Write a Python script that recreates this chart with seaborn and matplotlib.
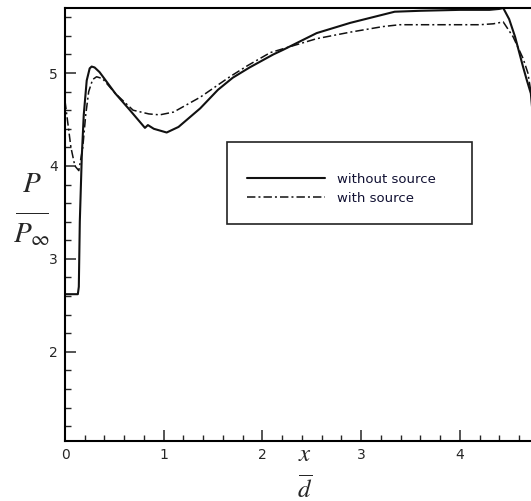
import matplotlib
matplotlib.use("Agg")
import matplotlib.pyplot as plt
from matplotlib.patches import Rectangle
from matplotlib.ticker import MultipleLocator
import numpy as np
import pandas as pd
import seaborn as sns

# ---- data ----
x_without = [0, 0.13, 0.14, 0.15, 0.17, 0.19, 0.22, 0.25, 0.27, 0.30, 0.35, 0.51, 0.65,
             0.81, 0.84, 0.90, 1.03, 1.15, 1.37, 1.55, 1.70, 1.87, 2.11, 2.21, 2.55, 2.89,
             3.34, 3.60, 4.00, 4.30, 4.40, 4.44, 4.50, 4.56, 4.64, 4.68, 4.72, 4.80]
y_without = [2.62, 2.62, 2.70, 3.40, 4.10, 4.55, 4.92, 5.05, 5.07, 5.06, 5.01, 4.78, 4.61,
             4.41, 4.44, 4.40, 4.36, 4.42, 4.62, 4.82, 4.95, 5.06, 5.20, 5.25, 5.43, 5.54,
             5.66, 5.67, 5.68, 5.68, 5.69, 5.70, 5.58, 5.39, 5.07, 4.92, 4.78, 3.80]

x_with = [0, 0.03, 0.06, 0.10, 0.14, 0.18, 0.21, 0.24, 0.28, 0.32, 0.38, 0.51, 0.69, 0.85,
          0.96, 1.10, 1.37, 1.67, 1.85, 2.08, 2.55, 2.89, 3.22, 3.39, 3.80, 4.20, 4.34,
          4.44, 4.54, 4.64, 4.69, 4.75, 4.80]
y_with = [4.70, 4.45, 4.20, 4.00, 3.95, 4.20, 4.55, 4.80, 4.93, 4.96, 4.94, 4.78, 4.60, 4.56,
          4.55, 4.58, 4.74, 4.96, 5.08, 5.22, 5.37, 5.44, 5.50, 5.52, 5.52, 5.52, 5.53,
          5.55, 5.39, 5.16, 5.00, 4.60, 4.20]

labels = ["without source", "with source"]
x_ticks = [0, 1, 2, 3, 4]
y_ticks = [2, 3, 4, 5]

# ---- figure ----
sns.set_style("ticks")
plt.rcParams["font.family"] = ["DejaVu Sans"]
plt.rcParams["mathtext.fontset"] = "stix"

W, H = 531, 501
fig = plt.figure(figsize=(W / 100, H / 100), dpi=100)
ax_left, ax_top, ax_bottom = 65, 8, 441
px_per_x = 98.7
ax = fig.add_axes([ax_left / W, (H - ax_bottom) / H, 5 * px_per_x / W, (ax_bottom - ax_top) / H])

df1 = pd.DataFrame({"x": x_without, "y": y_without})
df2 = pd.DataFrame({"x": x_with, "y": y_with})

sns.lineplot(data=df1, x="x", y="y", ax=ax, color="#111111", lw=1.5,
             sort=False, estimator=None, label=labels[0])
sns.lineplot(data=df2, x="x", y="y", ax=ax, color="#111111", lw=1.1,
             sort=False, estimator=None, label=labels[1])
ax.lines[1].set_dashes((5.5, 2.0, 1.3, 2.0))

ax.set_xlim(0, 5)
ax.set_ylim(1.04, 5.70)
ax.set_xticks(x_ticks)
ax.set_yticks(y_ticks)
ax.xaxis.set_minor_locator(MultipleLocator(0.2))
ax.yaxis.set_minor_locator(MultipleLocator(0.2))
ax.tick_params(which="major", direction="in", length=8, width=1.1, labelsize=10, pad=5,
               top=False, right=False)
ax.tick_params(which="minor", direction="in", length=4.5, width=1.0, top=False, right=False)
for s in ax.spines.values():
    s.set_linewidth(1.5)
    s.set_color("black")

ax_w = 5 * px_per_x
ax_h = ax_bottom - ax_top
ax.set_ylabel("$P$\n$\\overline{\\quad\\enspace}$\n$P_{\\infty}$", rotation=0, fontsize=21,
              va="center", ha="center", multialignment="center", linespacing=0.85)
ax.yaxis.set_label_coords((32 - ax_left) / ax_w, (ax_bottom - 209) / ax_h)
ax.set_xlabel("$x$\n$\\overline{\\enspace\\,}$\n$d$", fontsize=18, va="center", ha="center",
              multialignment="center", linespacing=0.68)
ax.xaxis.set_label_coords((305 - ax_left) / ax_w, (ax_bottom - 472) / ax_h)

# legend box
fig.patches.append(Rectangle((227 / W, (H - 224) / H), 245 / W, 82 / H,
                             transform=fig.transFigure, fill=False, edgecolor="#222222",
                             linewidth=1.2, zorder=5))
fs = 9.5
fs_px = fs * 100 / 72
leg = ax.legend(loc="upper left", bbox_to_anchor=(247 / W, (H - 173) / H),
                bbox_transform=fig.transFigure, frameon=False, fontsize=fs,
                borderpad=0, borderaxespad=0, handlelength=78 / fs_px,
                handletextpad=12 / fs_px, labelspacing=0.45)
for t in leg.get_texts():
    t.set_color("#111133")

fig.savefig("out.png", dpi=100)
